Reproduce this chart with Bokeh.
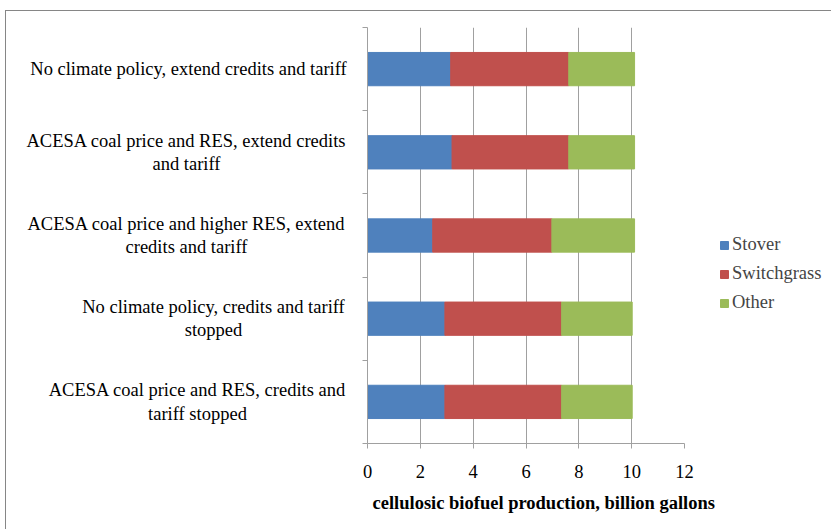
from bokeh.plotting import figure
from bokeh.layouts import row
from bokeh.models import Range1d, FixedTicker, Legend, LegendItem, ColumnDataSource, Title
from bokeh.core.properties import value
from bokeh.embed import file_html
from bokeh.resources import INLINE

scenarios = [
    "No climate policy, extend credits and tariff",
    "ACESA coal price and RES, extend credits\nand tariff",
    "ACESA coal price and higher RES, extend\ncredits and tariff",
    "No climate policy, credits and tariff\nstopped",
    "ACESA coal price and RES, credits and\ntariff stopped",
]
stover = [3.15, 3.20, 2.47, 2.93, 2.93]
switchgrass = [4.47, 4.42, 4.51, 4.42, 4.42]
other = [2.49, 2.49, 3.13, 2.67, 2.67]
series = ["Stover", "Switchgrass", "Other"]
colors = ["#4F81BD", "#C0504D", "#9BBB59"]
x_ticks = [0, 2, 4, 6, 8, 10, 12]
x_title = "cellulosic biofuel production, billion gallons"

# layout: horizontal centre (page px) of each category label block
label_center_px = [188, 186, 186, 213, 197]
CONTENT_LEFT_PX = 6
LABEL_W = 351
X_MAX = 12

n = len(scenarios)
ypos = [n - 1 - i + 0.5 for i in range(n)]
src = ColumnDataSource(dict(y=ypos, Stover=stover, Switchgrass=switchgrass, Other=other))

FONT = "'Liberation Serif', serif"
FS = "18.5px"
GRID = "#a0a0a0"
TOP, FH, BOT = 16, 416, 86

yr = Range1d(0, n)

# ---- label panel (left) ----
p1 = figure(width=LABEL_W, height=TOP + FH + BOT, output_backend="svg", toolbar_location=None,
            x_range=Range1d(0, LABEL_W), y_range=yr, x_axis_type=None, y_axis_type=None,
            min_border_left=0, min_border_right=0, min_border_top=TOP, min_border_bottom=BOT)
p1.outline_line_color = None
p1.grid.grid_line_color = None
lsrc = ColumnDataSource(dict(x=[c - CONTENT_LEFT_PX for c in label_center_px], y=ypos, text=scenarios))
p1.text(x="x", y="y", text="text", source=lsrc, text_align="center", text_baseline="middle",
        text_font=value(FONT), text_font_size=value(FS), text_color="black", text_line_height=1.17)

# ---- chart ----
p = figure(height=TOP + FH + BOT, output_backend="svg", toolbar_location=None,
           x_range=Range1d(0, X_MAX), y_range=yr,
           frame_width=317, frame_height=FH,
           min_border_left=10, min_border_top=TOP, min_border_right=150, min_border_bottom=BOT)
p.outline_line_color = None

rs = p.hbar_stack(series, y="y", height=0.4, color=colors, line_color=colors, source=src)

xa = p.xaxis[0]
xa.ticker = FixedTicker(ticks=x_ticks, minor_ticks=[])
xa.axis_line_color = GRID
xa.major_tick_line_color = GRID
xa.major_tick_in = 0
xa.major_tick_out = 5
xa.minor_tick_line_color = None
xa.major_label_text_font = FONT
xa.major_label_text_font_size = FS
xa.major_label_text_color = "black"
xa.major_label_standoff = 16

ya = p.yaxis[0]
ya.ticker = FixedTicker(ticks=[], minor_ticks=list(range(n + 1)))
ya.axis_line_color = GRID
ya.major_tick_line_color = None
ya.minor_tick_line_color = GRID
ya.minor_tick_in = 0
ya.minor_tick_out = 5
ya.major_label_text_font_size = "0px"

p.ygrid.grid_line_color = None
p.xgrid.ticker = FixedTicker(ticks=x_ticks)
p.xgrid.grid_line_color = GRID
p.xgrid.grid_line_width = 1

xt = Title(text=x_title, align="left", offset=5, standoff=20,
           text_font=FONT, text_font_size=FS, text_font_style="bold", text_color="black")
p.add_layout(xt, "below")

legend = Legend(items=[LegendItem(label=s, renderers=[r]) for s, r in zip(series, rs)],
                location=(35, 130), orientation="vertical",
                label_text_font=FONT, label_text_font_size=FS,
                glyph_width=10, glyph_height=10, label_height=20, spacing=8,
                padding=0, margin=0, border_line_color=None, label_standoff=3)
p.add_layout(legend, "right")

lay = row(p1, p, margin=(10, 0, 0, 5), styles={"border": "1px solid #868686"})

open("out.html", "w").write(file_html(lay, INLINE))
